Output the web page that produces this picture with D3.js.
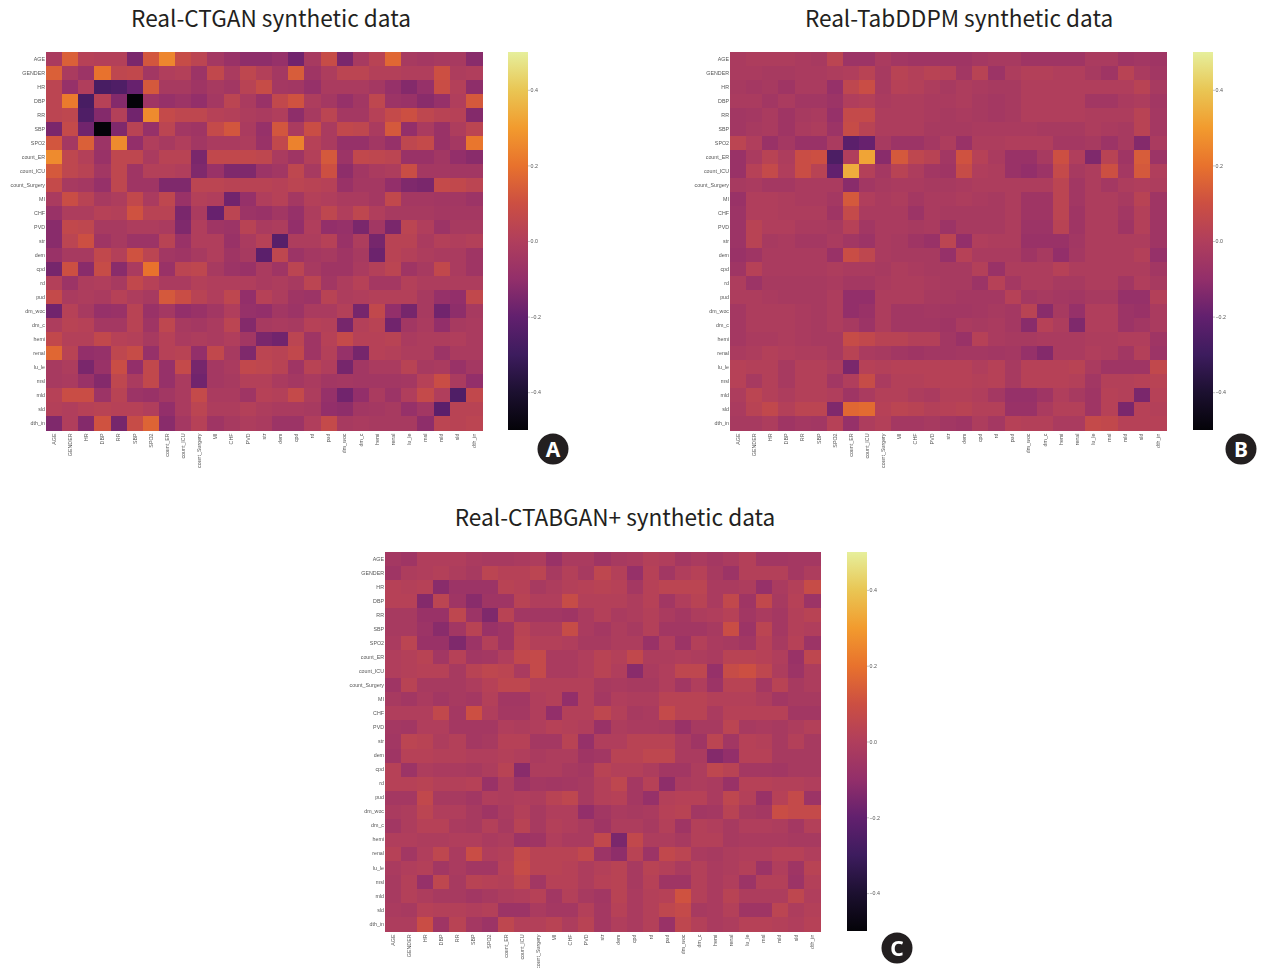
<!DOCTYPE html>
<html lang="en">
<head>
  <meta charset="UTF-8">
  <title>Real vs synthetic correlation differences</title>
  <script src="https://d3js.org/d3.v7.min.js"></script>
  <style>
    html, body { margin: 0; padding: 0; background: #fff; }
    svg { display: block; }
    .title { font-family: "Noto Sans CJK KR", "Noto Sans", sans-serif; font-size: 22.6px; font-weight: 400; fill: #231f20; text-anchor: middle; }
    .axis text { font-family: "Liberation Sans", sans-serif; font-size: 5.3px; fill: #555; }
    .axis path, .axis line { stroke: #888; stroke-width: .5; }
    .soft { filter: blur(.55px); }
    .cell { shape-rendering: crispEdges; }
    .badge text { font-family: "Noto Sans", sans-serif; font-weight: 700; font-size: 21px; fill: #fff; text-anchor: middle; }
  </style>
</head>
<body>
<svg id="chart" width="1263" height="968"></svg>
<script>
const labels = ["AGE","GENDER","HR","DBP","RR","SBP","SPO2","count_ER","count_ICU","count_Surgery","MI","CHF","PVD","str","dem","cpd","rd","pud","dm_woc","dm_c","hemi","renal","lu_le","msl","mld","sld","dth_in"];
const barTicks = [-0.4, -0.2, 0, 0.2, 0.4];

// values are in hundredths
const ctgan = [
  [-2,15,2,1,1,-15,12,25,8,4,-4,-8,-11,-11,-9,-17,-3,8,-15,-3,3,17,-3,-4,-3,-3,-12],
  [15,-2,-7,20,5,6,-5,0,1,-7,6,-2,5,1,-4,14,-6,-1,4,4,1,1,0,0,10,-1,0],
  [4,-9,0,-27,-25,-19,13,-3,-3,-6,-3,-5,3,8,-4,-5,-9,-2,-2,-2,-4,-9,-13,-9,9,1,-11],
  [4,22,-27,2,-13,-50,-6,-9,-7,-10,-4,4,-2,-8,6,11,-1,-4,-9,-5,5,-7,-8,-12,-9,0,13],
  [4,5,-25,-13,1,-17,26,7,5,5,2,1,-1,-2,0,-11,-3,4,-4,-4,2,7,10,5,3,2,-13],
  [-15,7,-17,-50,-14,3,-9,4,-5,-6,7,12,-2,-9,12,-2,9,-2,6,5,-2,13,-10,-2,-8,-1,4],
  [12,-4,15,-7,26,-10,0,-3,0,-5,-2,-2,-1,-8,6,24,2,-2,-9,-9,-5,-9,5,7,-8,-4,21],
  [26,5,1,-8,5,5,-2,3,3,-15,6,6,6,5,-2,-6,1,13,-7,6,5,4,-8,-8,-5,-10,-12],
  [13,5,3,-5,5,-6,1,1,0,-14,-8,-14,-14,-7,-5,5,-3,10,-11,-5,-2,-1,9,-4,-4,-5,-5],
  [7,-3,-4,-9,5,-6,-6,-14,-14,4,4,3,3,3,2,4,3,2,-8,-4,-4,-10,-14,-15,7,6,4],
  [-2,9,3,-3,-1,6,-2,5,-8,1,0,-17,-9,0,2,-4,1,0,-2,-2,-4,6,-4,-4,-5,-5,-7],
  [-8,-1,-1,2,1,11,3,3,-15,-2,-19,4,-7,-8,-5,-9,-1,5,0,5,0,-3,-3,-3,-4,-4,-4],
  [-12,6,5,-3,-3,-1,-1,-2,-14,0,-6,-7,3,-2,-1,-10,0,-10,-9,-15,-5,-15,4,0,-7,-3,-3],
  [-12,4,10,-6,-3,-7,-7,3,-8,0,0,-8,-2,2,-23,-1,-1,2,-8,-1,-16,3,3,-2,1,0,1],
  [-8,-3,-3,6,1,11,4,-5,-6,-3,0,-6,-3,-22,5,-7,-4,-3,-6,-3,-18,3,1,-1,-2,-2,-6],
  [-16,10,-12,8,-12,-2,20,-8,4,5,-3,-7,-8,-2,-6,4,-3,-6,-6,-2,1,4,-6,-3,6,-2,-6],
  [1,-7,-1,0,-3,6,2,-2,-2,1,0,0,0,-2,-1,-3,4,-5,-1,2,-4,-4,1,-1,-1,-1,-1],
  [7,-2,-1,-2,2,-1,-3,13,9,3,0,5,-10,2,-1,-6,-7,3,-1,0,1,1,1,-3,-9,-10,6],
  [-17,2,-3,-9,-8,3,-8,-4,-10,-8,-5,0,-9,-10,-5,-7,-2,-2,1,-16,6,-10,-16,-3,-17,-11,-3],
  [-1,3,2,-4,-4,3,-6,5,-3,-4,-2,4,-13,-3,-2,-3,2,1,-16,1,3,-17,-5,-2,-10,-3,-2],
  [6,1,1,6,2,1,-3,2,-2,-1,-2,0,-5,-15,-17,4,-6,2,7,2,2,3,-2,-1,-1,0,-2],
  [17,3,-10,-9,5,8,-9,2,3,-10,6,-3,-14,4,3,6,-6,1,-9,-16,2,1,-1,-1,-7,-2,-2],
  [-3,-1,-15,-8,9,-10,6,-9,7,-16,-4,-2,6,5,3,-6,3,0,-16,-5,-2,-2,3,-3,-2,-8,-4],
  [-3,-2,-8,-13,5,-2,6,-9,-2,-17,-4,-3,1,1,-2,-4,-2,-5,-4,-5,-5,-5,-4,2,9,-2,-10],
  [2,9,9,-7,3,-7,-8,-5,-2,7,-2,-2,-6,2,1,7,-1,-9,-17,-10,-2,-7,0,7,0,-25,6],
  [1,0,2,3,2,2,0,-10,-2,4,-1,-1,1,-1,-2,-2,-3,-10,-11,-5,-4,-3,-9,-5,-22,3,3],
  [-14,0,-13,11,-16,8,16,-12,-4,2,-6,-3,-1,-2,-7,-7,0,7,-3,-2,-3,-3,-3,-11,4,3,4]
];

const tabddpm = [
  [-2,-1,-1,-1,-2,-3,4,-7,-7,-2,-5,-6,-6,-6,-6,-4,-3,-3,-6,-6,-6,-6,-2,-2,-6,-5,-6],
  [-2,-2,-3,-3,-2,-2,-1,0,3,-3,3,1,3,2,-5,3,-7,-1,1,1,0,0,-3,-6,3,-2,-5],
  [-3,-4,-3,-6,-2,-2,-9,5,9,-3,2,1,-1,-3,-1,-2,-3,-3,0,0,0,0,0,0,0,3,-3],
  [-2,-2,-5,-2,-5,-5,-7,0,1,-2,-1,-1,-2,-2,-1,-3,-4,-3,0,0,0,0,-5,-5,-2,-1,-5],
  [-5,-4,-2,-6,-3,-2,-9,7,7,-1,-1,-1,-2,-3,-2,-3,-4,-3,0,0,0,0,-1,-1,-1,3,-4],
  [-5,-3,-2,-6,-2,-1,-7,8,3,-1,-1,-1,-3,-3,-3,-2,-2,-2,-2,-3,-3,-3,-1,-2,-3,3,-4],
  [4,0,-8,-4,-8,-8,-2,-22,-19,-3,-7,-7,-4,-1,-8,-1,-1,0,0,0,-4,-4,-3,-7,-3,-13,-2],
  [-8,-2,3,-1,9,10,-26,0,32,-12,13,5,3,-5,11,2,-2,-8,-8,-3,10,0,-14,3,-6,14,-7],
  [-8,2,7,0,9,3,-20,34,1,-4,3,-1,-5,-6,8,0,-1,-8,-10,-7,7,-3,-1,10,-4,13,0],
  [-3,-2,-4,-4,-2,-2,-2,-12,-5,-3,-2,-2,-3,-3,-2,-1,-1,-1,-1,-1,4,-5,-1,-4,-1,0,-1],
  [-8,0,0,-1,-2,-2,-4,13,0,-2,-1,-4,-2,-2,-1,-2,-3,-1,-6,-6,4,-5,-1,-1,-3,3,-6],
  [-7,0,0,-1,-1,-1,-6,7,-2,-2,-2,-7,-2,-3,-3,-3,-3,-1,-6,-6,4,-6,-1,-1,-5,1,-6],
  [-7,3,0,0,-2,-2,-3,2,-5,-2,-2,-3,-2,-7,-3,-3,-3,-1,-7,-7,3,-6,-1,-1,-6,1,-6],
  [-7,3,-3,-2,-4,-4,-2,-5,-7,-2,-3,-6,-8,4,-10,0,-1,-1,-8,-8,-8,-5,-1,-1,-1,-1,-6],
  [-8,-6,-2,-2,-2,-2,-8,9,5,-2,-3,-3,-3,-9,2,-2,-2,-2,-6,-3,-10,-4,-1,-1,-1,1,-9],
  [-6,2,-2,-2,-2,-2,-1,-2,-2,-3,-1,-2,-3,-3,-3,1,-8,-1,-1,-1,2,-1,-1,-1,-1,-1,-5],
  [-1,-7,-3,-3,-3,-3,-2,-4,-4,-2,-1,-1,-2,-3,-3,-7,2,-4,-1,-1,-3,-3,-1,-1,-5,0,-3],
  [-1,-1,-2,-3,-3,-3,-1,-10,-10,-1,-1,-1,-3,-3,-4,-4,-4,2,-4,-3,-4,-5,-3,-3,-9,-9,1],
  [-4,-1,-1,-1,-2,-3,-1,-10,-8,-1,-5,-5,-4,-5,-5,-4,-3,-4,3,-12,-3,-9,0,0,-7,-8,-2],
  [-4,-1,-1,-1,-2,-3,-1,-3,-7,-1,-5,-5,-5,-6,-2,-3,-2,-4,-12,2,-1,-14,0,0,-7,-5,-2],
  [-4,-2,-2,-1,-2,-3,-3,8,6,3,3,1,1,-5,-8,2,-2,-3,-3,-2,-2,-2,-1,-1,0,0,-6],
  [-2,-1,1,0,-1,-1,-3,3,-2,-3,-5,-6,-5,-5,-4,-4,-5,-4,-9,-13,-2,-2,0,-1,-5,1,-7],
  [2,1,1,-3,1,1,-1,-15,2,1,2,2,2,2,2,0,2,-3,2,2,2,3,-2,-6,-6,-6,6],
  [2,-3,1,-3,1,1,-5,0,8,-2,1,1,2,2,2,1,2,-3,2,2,2,1,-5,1,1,2,3],
  [-1,4,1,-1,1,1,0,-6,-2,1,1,-1,-2,1,1,0,-4,-9,-9,-6,0,-3,-6,2,1,-15,2],
  [-2,3,6,1,4,4,-14,17,18,2,4,3,1,2,3,1,1,-8,-8,-2,1,1,-6,2,-15,2,1],
  [-3,-3,-1,-6,-4,-5,2,-9,-1,1,-4,-4,-3,-5,-6,-1,-4,2,1,1,-2,-2,7,6,2,2,2]
];

const ctabgan = [
  [-4,-6,0,0,0,-2,-3,-3,-2,-1,-8,-2,-2,-6,-3,-2,1,0,-4,-2,-4,-2,1,-5,-5,-4,-4],
  [-6,-1,0,1,-1,-3,4,2,2,4,-3,1,-3,5,1,-9,2,-5,0,2,-3,-7,1,1,1,-4,-1],
  [2,1,2,-12,-7,-7,-7,3,2,-3,-1,1,2,3,2,-4,2,4,4,4,-2,-2,-1,-9,-2,1,8],
  [2,2,-13,4,-6,-12,-6,-6,3,0,0,8,1,1,1,-1,2,-5,0,3,-2,6,-6,6,-3,2,-7],
  [-3,-3,-8,-8,5,-7,-14,3,-5,-5,-5,-6,-2,1,-2,-1,1,-2,-4,-1,0,2,-5,-2,-4,1,3],
  [-3,-3,-7,-12,-5,3,-8,-6,3,-1,-1,8,-2,-4,-1,-3,1,-5,-5,-5,-3,9,-7,4,-4,1,0],
  [-2,4,-8,-8,-14,-7,1,-6,4,1,1,0,-3,-3,-1,-1,-8,0,-7,1,-2,-3,-5,2,-3,2,-7],
  [0,1,3,-5,2,-5,-4,0,6,7,-2,-2,0,3,1,6,-1,-1,0,-1,-2,3,3,2,0,-8,5],
  [0,1,2,2,-3,3,5,4,-2,7,-2,-2,0,3,0,-12,-2,0,5,5,-9,8,10,5,-1,-7,-1],
  [-6,3,-3,-3,-3,-1,2,5,5,1,1,1,1,-3,-2,-3,-3,0,-5,0,-7,3,3,-4,3,-3,-1],
  [-3,-5,-2,-5,-3,-4,1,-5,-5,0,1,-10,1,-4,0,-1,-1,3,3,3,1,1,1,-1,-5,-3,-3],
  [0,0,0,6,-4,10,0,-4,-4,0,-10,1,1,5,1,-3,-2,7,3,3,-2,2,2,2,2,-5,-5],
  [-4,-5,0,0,-4,-4,-4,0,-1,0,2,1,0,-8,-1,-2,-2,-3,-8,-3,-3,4,-3,-2,-3,-1,1],
  [-5,4,3,-1,1,-4,-3,2,2,-4,-4,3,-9,0,0,3,3,3,-2,-6,4,-5,2,1,-3,1,-3],
  [-6,2,2,1,1,0,0,1,0,-2,-1,-1,-6,-5,3,3,5,5,-2,-2,-13,-10,2,2,-3,-3,-3],
  [2,-7,-1,-2,-2,-3,-1,3,-12,-1,-1,-3,-4,3,1,1,-1,-5,-5,-1,5,3,-4,-4,-5,-3,-3],
  [2,2,3,1,1,2,-8,-1,-7,-4,-5,-4,-3,1,5,-4,2,-11,-2,-1,-2,-8,2,2,1,1,0],
  [-4,-4,6,-3,-3,-5,0,-1,0,-1,3,5,-3,1,2,-4,-9,1,2,2,-2,5,1,-8,2,7,-7],
  [-2,-1,4,0,0,-3,-6,-2,1,-3,0,0,-10,-5,-2,-3,-2,2,3,-5,-4,3,-3,-4,9,7,7],
  [-5,-1,2,2,-2,-3,1,-3,3,-3,1,0,-2,-6,-1,-1,-3,1,-6,1,0,-3,0,0,-1,-4,1],
  [0,0,-1,-1,0,0,-2,-1,-7,-6,0,-2,-2,6,-15,6,-1,-1,-3,1,1,-3,-2,-2,-2,-3,-3],
  [2,-5,0,5,-2,9,0,1,7,3,3,3,6,-7,-11,3,-7,6,4,-2,-3,-1,0,0,2,2,0],
  [-2,0,1,-5,-2,-5,-5,2,8,3,3,2,-1,1,3,-3,3,1,-2,1,-2,-1,1,-7,0,-6,3],
  [-3,1,-9,5,-3,3,2,1,5,-5,2,2,-1,2,3,-3,2,-6,-6,1,-2,0,-7,1,1,-7,1],
  [-3,1,-1,-3,-3,-5,-3,-1,0,2,-5,1,-3,-5,3,-2,1,2,11,1,-2,3,-1,-1,-1,5,0],
  [-2,-3,2,1,1,0,1,-7,-7,-2,-4,-4,1,-4,2,-2,1,5,7,-3,-2,1,-6,-6,4,-1,1],
  [-1,-1,9,-6,3,-4,-7,5,1,1,3,-1,3,-4,0,-2,1,-8,5,1,-2,-1,2,2,1,0,2]
];

const svg = d3.select("#chart");

// inferno as it looks in the printed figure, a bit duller than d3's own
const barColors = ["#040308","#1c1030","#3d1c5e","#62206e","#932f6a","#b03e5c","#cc4f42","#e8722d","#f29b2e","#e9c654","#e6ef9c"];
const color = d3.scaleLinear()
  .domain(d3.range(-0.5, 0.501, 0.1))
  .range(barColors);

const grad = svg.append("defs").append("linearGradient")
  .attr("id", "barGrad").attr("x1", 0).attr("x2", 0).attr("y1", 1).attr("y2", 0);
barColors.forEach((c, i) => {
  grad.append("stop").attr("offset", i / (barColors.length - 1)).attr("stop-color", c);
});

function panel(opts, rows) {
  const x = d3.scaleBand().domain(labels).range([opts.left, opts.left + opts.width]);
  const y = d3.scaleBand().domain(labels).range([opts.top, opts.top + opts.height]);
  const g = svg.append("g");

  svg.append("text").attr("class", "title")
    .attr("x", opts.titleX).attr("y", opts.titleY).text(opts.title);

  const soft = g.append("g").attr("class", "soft");
  labels.forEach((rowName, r) => {
    soft.selectAll(null)
      .data(rows[r])
      .enter()
      .append("rect")
      .attr("class", "cell")
      .attr("x", (d, i) => x(labels[i]))
      .attr("y", y(rowName))
      .attr("width", x.bandwidth() + 0.5)
      .attr("height", y.bandwidth() + 0.5)
      .attr("fill", d => color(d / 100));
  });

  soft.append("g").attr("class", "axis")
    .attr("transform", "translate(" + opts.left + ",0)")
    .call(d3.axisLeft(y).tickSize(0).tickPadding(1))
    .call(a => a.select(".domain").remove());

  soft.append("g").attr("class", "axis")
    .attr("transform", "translate(0," + (opts.top + opts.height) + ")")
    .call(d3.axisBottom(x).tickSize(0).tickPadding(0))
    .call(a => a.select(".domain").remove())
    .selectAll("text")
    .attr("transform", "rotate(-90)")
    .attr("text-anchor", "end")
    .attr("x", -3.5)
    .attr("y", 0)
    .attr("dy", "0.32em");

  // colourbar
  const barY = d3.scaleLinear().domain([-0.5, 0.5]).range([opts.top + opts.height, opts.top]);
  soft.append("rect")
    .attr("x", opts.barX).attr("y", opts.top)
    .attr("width", 20).attr("height", opts.height)
    .attr("fill", "url(#barGrad)");
  soft.append("g").attr("class", "axis")
    .attr("transform", "translate(" + (opts.barX + 20) + ",0)")
    .call(d3.axisRight(barY).tickValues(barTicks).tickSize(2).tickPadding(0.5).tickFormat(d3.format(".1f")))
    .call(a => a.select(".domain").remove());

  const badge = svg.append("g").attr("class", "badge")
    .attr("transform", "translate(" + opts.badgeX + "," + opts.badgeY + ")");
  badge.append("circle").attr("r", 15.5).attr("fill", "#231f20");
  badge.append("text").attr("y", 7.5).text(opts.letter);
}

panel({ title: "Real-CTGAN synthetic data", titleX: 271, titleY: 27, left: 46, top: 52, width: 436, height: 378, barX: 508, badgeX: 553, badgeY: 449, letter: "A" }, ctgan);
panel({ title: "Real-TabDDPM synthetic data", titleX: 959, titleY: 27, left: 730, top: 52, width: 436, height: 378, barX: 1193, badgeX: 1241, badgeY: 449, letter: "B" }, tabddpm);
panel({ title: "Real-CTABGAN+ synthetic data", titleX: 615, titleY: 526, left: 385, top: 552, width: 435, height: 379, barX: 847, badgeX: 897, badgeY: 948, letter: "C" }, ctabgan);
</script>
</body>
</html>
